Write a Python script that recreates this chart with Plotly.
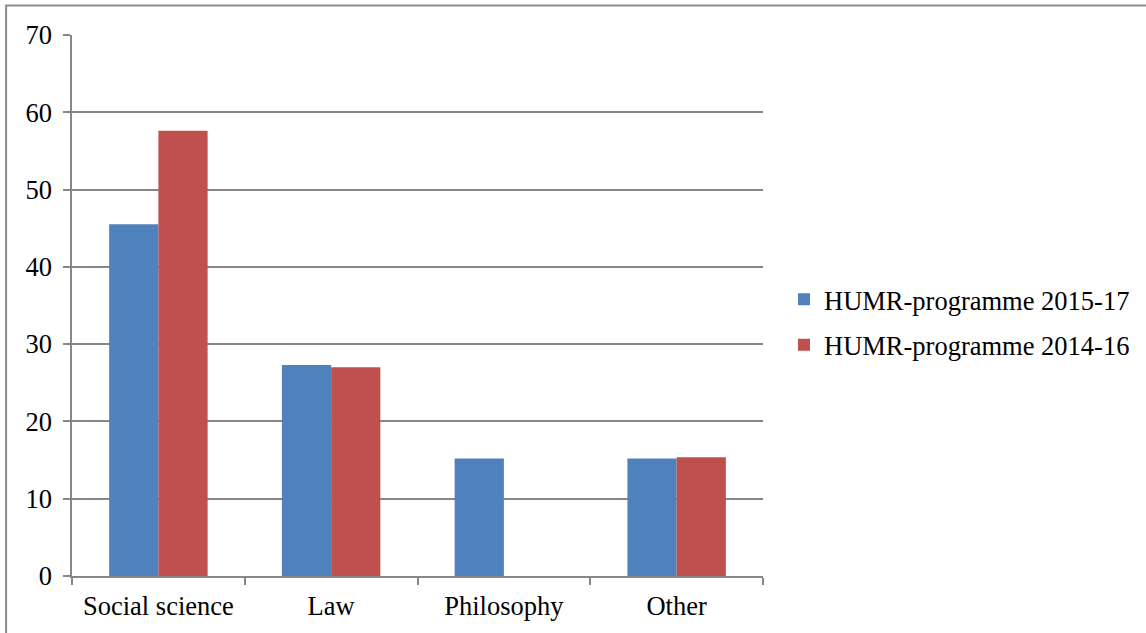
import plotly.graph_objects as go

categories = ["Social science", "Law", "Philosophy", "Other"]
series_2015_17 = [45.5, 27.3, 15.2, 15.2]
series_2014_16 = [57.6, 27.0, 0, 15.35]
series_names = ["HUMR-programme 2015-17", "HUMR-programme 2014-16"]
y_ticks = [0, 10, 20, 30, 40, 50, 60, 70]

FONT = "Liberation Serif"
GRID = "#878787"
FS = 26.5

fig = go.Figure()
fig.add_trace(go.Bar(x=categories, y=series_2015_17, name=series_names[0], legendgroup="a",
                     marker=dict(color="#4f81bd", line=dict(width=0))))
fig.add_trace(go.Bar(x=categories, y=series_2014_16, name=series_names[1], legendgroup="b",
                     marker=dict(color="#c0504d", line=dict(width=0))))

W, H = 1146, 633
L, R, T, B = 72, 382, 35, 57
pw = W - L - R
ph = H - T - B

fig.update_layout(
    width=W, height=H,
    margin=dict(l=L, r=R, t=T, b=B),
    paper_bgcolor="white", plot_bgcolor="white",
    barmode="group", bargap=0.43, bargroupgap=0,
    font=dict(family=FONT, size=FS, color="black"),
    showlegend=True,
    legend=dict(x=(784 - L) / pw, y=(576 - 322) / ph, xanchor="left", yanchor="middle",
                font=dict(family=FONT, size=FS, color="black"),
                tracegroupgap=8, itemwidth=30, bgcolor="rgba(0,0,0,0)"),
    xaxis=dict(showgrid=False, showline=True, linecolor=GRID, linewidth=1.5,
               ticks="outside", ticklen=7, tickcolor=GRID, tickwidth=1.5,
               tickson="boundaries", tickfont=dict(family=FONT, size=FS, color="black"),
               ticklabelstandoff=5, fixedrange=True),
    yaxis=dict(range=[0, 70], tickvals=y_ticks, showgrid=True, gridcolor=GRID, gridwidth=1.5,
               showline=True, linecolor=GRID, linewidth=1.5,
               ticks="outside", ticklen=7, tickcolor=GRID, tickwidth=1.5,
               zeroline=False, tickfont=dict(family=FONT, size=FS, color="black"),
               ticklabelstandoff=6, fixedrange=True),
)

# outer frame (left and top edges visible, rest cropped)
fig.add_shape(type="rect", xref="paper", yref="paper",
              x0=(6 - L) / pw, x1=(1160 - L) / pw,
              y0=(576 - 650) / ph, y1=(576 - 5.5) / ph,
              line=dict(color="#8c8c8c", width=2), fillcolor="rgba(0,0,0,0)", layer="below")

fig.write_html("out.html", config={"displayModeBar": False},
               post_script="document.body.style.margin='0';document.body.style.overflow='hidden';")
